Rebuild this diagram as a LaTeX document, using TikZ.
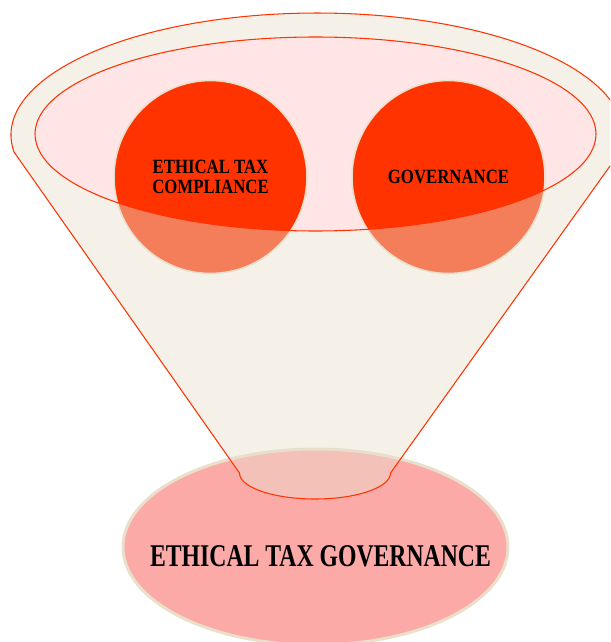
\documentclass[tikz,border=0pt]{standalone}
\usepackage{fontspec}
\usepackage{tikz}
\newfontfamily\labelfont[FakeStretch=0.83]{Liberation Serif}
\newfontfamily\resultfont[FakeStretch=0.75]{Liberation Serif}
\definecolor{funnelred}{RGB}{255,51,0}
\definecolor{funnelbody}{RGB}{232,223,205}
\definecolor{rimpink}{RGB}{255,229,229}
\definecolor{edgebeige}{RGB}{233,223,203}
\definecolor{basepink}{RGB}{252,170,167}

\begin{document}
\begin{tikzpicture}[x=0.02cm,y=-0.02cm,
    topic/.style={circle,fill=funnelred,draw=edgebeige,line width=0.9pt,
      minimum size=3.86cm,inner sep=0pt,align=center,
      font=\labelfont\bfseries\fontsize{11.5}{11}\selectfont},
    result/.style={inner sep=0pt,
      font=\resultfont\bfseries\fontsize{18}{20}\selectfont}]
  \useasboundingbox (0,0) rectangle (610,642);
  \clip (0,0) rectangle (610,642);
  % result of the funnel
  \filldraw[fill=basepink,draw=edgebeige,line width=1.7pt] %
    (315.5,547) ellipse [x radius=192.5, y radius=98];
  \node[result] (base) at (320.5,556) {ETHICAL TAX GOVERNANCE};
  % rim and the two inputs
  \fill[rimpink] (315.5,134) ellipse [x radius=280.5, y radius=97];
  \node[topic] (ethical) at (210.5,177) {ETHICAL TAX\\COMPLIANCE};
  \node[topic] (gov) at (448.5,177) {GOVERNANCE};
  % funnel body, open at the rim
  \fill[funnelbody,fill opacity=0.44,even odd rule] (14,152) %
    arc[start angle=172, end angle=368, x radius=306, y radius=122] %
    -- (390.5,473) arc[start angle=0, end angle=180, x radius=75.5, y radius=26] %
    -- cycle (315.5,134) ellipse [x radius=280.5, y radius=97];
  \draw[funnelred,line width=0.6pt] (14,152) %
    arc[start angle=172, end angle=368, x radius=306, y radius=122] %
    -- (390.5,473) arc[start angle=0, end angle=180, x radius=75.5, y radius=26] %
    -- cycle;
  \draw[funnelred,line width=0.6pt] (315.5,134) ellipse [x radius=280.5, y radius=97];
\end{tikzpicture}
\end{document}
